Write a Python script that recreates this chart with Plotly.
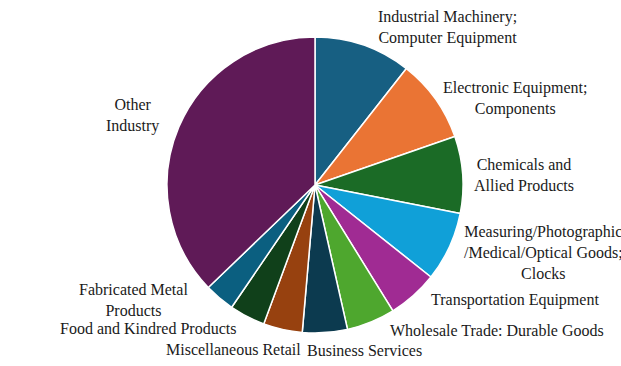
import plotly.graph_objects as go

W, H = 621, 366

# Industry shares (percent), clockwise from 12 o'clock
industries = [
    "Industrial Machinery;<br>Computer Equipment",
    "Electronic Equipment;<br>Components",
    "Chemicals and<br>Allied Products",
    "Measuring/Photographic<br>/Medical/Optical Goods;<br>Clocks",
    "Transportation Equipment",
    "Wholesale Trade: Durable Goods",
    "Business Services",
    "Miscellaneous Retail",
    "Food and Kindred Products",
    "Fabricated Metal<br>Products",
    "Other<br>Industry",
]
shares = [10.6, 9.1, 8.4, 7.6, 5.5, 5.3, 4.9, 4.25, 3.9, 3.3, 37.2]
colors = [
    "#175f82", "#ea7434", "#1b6b26", "#10a0d8", "#a02b93", "#4ea72e",
    "#0c3a4f", "#97410f", "#10401a", "#0b5f80", "#5f1a57",
]

# label block centres in pixels (x from left, y from top)
label_xy = [
    (447, 28), (515, 99), (524, 175), (543, 252), (515, 300), (497, 330),
    (364, 350), (233, 349), (148, 328), (133, 300), (132, 115),
]

fig = go.Figure(
    go.Pie(
        labels=industries,
        values=shares,
        sort=False,
        direction="clockwise",
        rotation=0,
        marker=dict(colors=colors, line=dict(color="white", width=1.5)),
        textinfo="none",
        domain=dict(x=[0.2689, 0.7456], y=[0.0902, 0.899]),
        showlegend=False,
        hoverinfo="label+percent",
    )
)

for name, (px, py) in zip(industries, label_xy):
    fig.add_annotation(
        text=name,
        x=px / W,
        y=1 - py / H,
        xref="paper",
        yref="paper",
        xanchor="center",
        yanchor="middle",
        align="center",
        showarrow=False,
        font=dict(family="Liberation Serif", size=16, color="#1a1a1a"),
    )

fig.update_layout(
    width=W,
    height=H,
    margin=dict(l=0, r=0, t=0, b=0),
    paper_bgcolor="white",
    plot_bgcolor="white",
    font=dict(family="Liberation Serif", size=16, color="#1a1a1a"),
)

fig.write_html("out.html")
